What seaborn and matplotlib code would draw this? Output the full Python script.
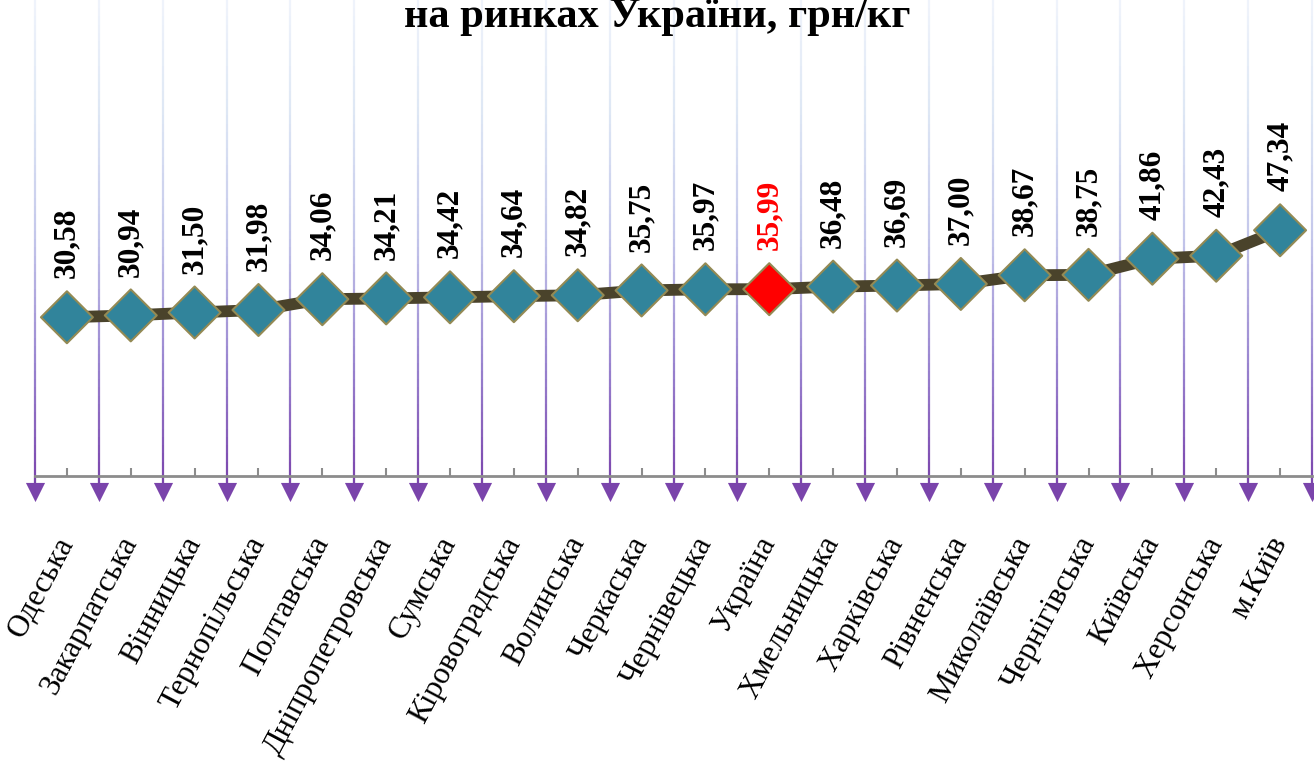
import matplotlib
matplotlib.use("Agg", force=True)
import matplotlib.pyplot as plt
import numpy as np
import pandas as pd
import seaborn as sns
from matplotlib.colors import LinearSegmentedColormap

REGIONS = [
    "Одеська", "Закарпатська", "Вінницька", "Тернопільська", "Полтавська",
    "Дніпропетровська", "Сумська", "Кіровоградська", "Волинська", "Черкаська",
    "Чернівецька", "Україна", "Хмельницька", "Харківська", "Рівненська",
    "Миколаївська", "Чернігівська", "Київська", "Херсонська", "м.Київ",
]
PRICES = [
    30.58, 30.94, 31.50, 31.98, 34.06, 34.21, 34.42, 34.64, 34.82, 35.75,
    35.97, 35.99, 36.48, 36.69, 37.00, 38.67, 38.75, 41.86, 42.43, 47.34,
]
HIGHLIGHT = "Україна"
TITLE = "на ринках України, грн/кг"


def main() -> None:
    sns.set_theme(style="white")
    plt.rcParams["font.family"] = ["Liberation Serif", "DejaVu Serif"]
    plt.rcParams["text.color"] = "black"
    plt.rcParams["xtick.labelcolor"] = "black"

    df = pd.DataFrame({"region": REGIONS, "price": PRICES})
    df["pos"] = np.arange(len(df))
    df["kind"] = np.where(df["region"] == HIGHLIGHT, "ua", "region")

    fig = plt.figure(figsize=(13.14, 7.66), dpi=100)
    ax = fig.add_axes([35 / 1314, 290 / 766, 1277 / 1314, 476 / 766])
    ymax = 91.7
    n = len(df)

    # gradient grid lines at category boundaries, running down past the axis
    cmap = LinearSegmentedColormap.from_list(
        "grid", ["#7b45ad", "#9a86d0", "#c3c6ea", "#dde6f4", "#f0f4fb"]
    )
    edges = np.arange(n + 1) - 0.5
    levels = np.linspace(-2.0, ymax, 60)
    for lo, hi in zip(levels[:-1], levels[1:]):
        ax.vlines(edges, lo, hi, colors=[cmap((lo + 2.0) / (ymax + 2.0))],
                  linewidth=1.6, clip_on=False, zorder=1)
    ax.scatter(edges, np.full(len(edges), -3.1), marker="v", s=190,
               color="#7a44ab", linewidths=0, clip_on=False, zorder=3)

    sns.lineplot(data=df, x="pos", y="price", color="#4a432b", linewidth=8.5,
                 ax=ax, zorder=4, legend=False)
    sns.scatterplot(data=df, x="pos", y="price", hue="kind", marker="D", s=700,
                    palette={"region": "#31849b", "ua": "#ff0000"},
                    edgecolor="#948a54", linewidth=1.5, ax=ax, zorder=5, legend=False)

    for pos, price, kind in zip(df["pos"], df["price"], df["kind"]):
        ax.annotate(f"{price:.2f}".replace(".", ","), (pos, price),
                    xytext=(0, 28), textcoords="offset points", rotation=90,
                    ha="center", va="bottom", fontsize=22.5, fontweight="bold",
                    color="#ff0000" if kind == "ua" else "black", zorder=6)

    ax.set_xlim(-0.5, n - 0.5)
    ax.set_ylim(0, ymax)
    ax.set_xlabel("")
    ax.set_ylabel("")
    ax.set_yticks([])
    for side in ["top", "right", "left"]:
        ax.spines[side].set_visible(False)
    ax.spines["bottom"].set_color("#8c8c8c")
    ax.spines["bottom"].set_linewidth(2)
    ax.spines["bottom"].set_zorder(2)

    ax.set_xticks(df["pos"])
    ax.set_xticks(edges, minor=True)
    ax.set_xticklabels(df["region"], rotation=62, ha="right", va="center",
                       rotation_mode="anchor", fontsize=22.5, color="black")
    ax.tick_params(axis="x", which="major", direction="in", length=6,
                   width=1.5, color="#8c8c8c", pad=45, bottom=True)
    ax.tick_params(axis="x", which="minor", direction="out", length=6,
                   width=1.5, color="#8c8c8c", bottom=True)

    fig.text(0.5, 1 - 27 / 766, TITLE, ha="center", va="baseline",
             fontsize=30.5, fontweight="bold", color="black")

    fig.savefig("out.png", dpi=100)
    plt.close(fig)


if __name__ == "__main__":
    main()
